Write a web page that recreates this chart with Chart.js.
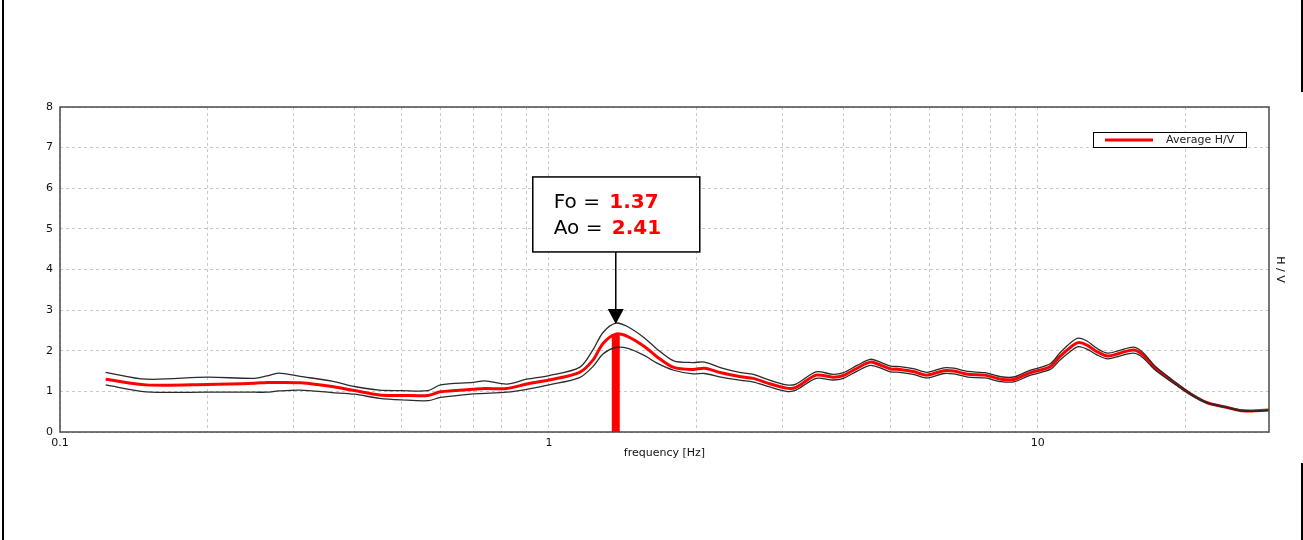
<!DOCTYPE html>
<html>
<head>
<meta charset="utf-8">
<script src="https://cdn.jsdelivr.net/npm/chart.js@4"></script>
<style>
html,body{margin:0;padding:0;background:#fff;overflow:hidden}
canvas{display:block}
</style>
</head>
<body>
<canvas id="hv" width="1303" height="540"></canvas>
<script>
// frequencies [Hz] and H/V curves
const freq    = [0.124,0.15,0.2,0.25,0.265,0.28,0.31,0.36,0.4,0.45,0.5,0.566,0.6,0.7,0.74,0.82,0.9,1.0,1.155,1.23,1.29,1.37,1.45,1.57,1.66,1.8,1.97,2.08,2.25,2.47,2.62,2.79,3.06,3.2,3.52,3.81,4.0,4.27,4.54,4.76,5.0,5.22,5.56,5.93,6.42,6.73,7.19,7.8,8.41,8.97,9.6,10.6,11.1,11.7,12.1,12.6,13.2,13.9,14.7,15.7,16.4,17.4,18.9,20.5,22.2,24.3,25.9,27.6,29.7];
const avgHV   = [1.30,1.16,1.17,1.20,1.22,1.22,1.21,1.12,1.02,0.91,0.90,0.90,0.99,1.05,1.07,1.07,1.18,1.28,1.47,1.77,2.18,2.41,2.35,2.10,1.86,1.59,1.54,1.57,1.46,1.36,1.32,1.21,1.08,1.10,1.40,1.35,1.39,1.57,1.72,1.65,1.55,1.54,1.49,1.40,1.51,1.50,1.42,1.40,1.30,1.30,1.45,1.61,1.86,2.10,2.20,2.14,1.98,1.87,1.94,2.02,1.90,1.57,1.24,0.94,0.72,0.61,0.53,0.52,0.54];
const upperHV = [1.47,1.30,1.35,1.32,1.38,1.45,1.37,1.25,1.12,1.03,1.02,1.02,1.16,1.22,1.26,1.18,1.30,1.39,1.59,2.02,2.45,2.68,2.59,2.31,2.05,1.75,1.71,1.72,1.58,1.46,1.42,1.30,1.16,1.18,1.48,1.42,1.46,1.64,1.79,1.72,1.62,1.61,1.56,1.47,1.58,1.57,1.49,1.46,1.36,1.36,1.51,1.68,1.95,2.21,2.31,2.24,2.06,1.94,2.01,2.09,1.96,1.61,1.27,0.96,0.73,0.62,0.54,0.52,0.54];
const lowerHV = [1.16,0.99,0.98,0.98,0.98,1.01,1.03,0.97,0.93,0.83,0.79,0.77,0.85,0.94,0.95,0.98,1.05,1.16,1.34,1.61,1.92,2.08,2.06,1.88,1.70,1.52,1.43,1.44,1.35,1.27,1.23,1.13,1.00,1.03,1.32,1.28,1.32,1.50,1.64,1.58,1.48,1.47,1.42,1.33,1.44,1.43,1.35,1.33,1.24,1.24,1.39,1.54,1.77,2.00,2.10,2.04,1.90,1.80,1.87,1.94,1.83,1.52,1.21,0.92,0.71,0.60,0.52,0.51,0.53];

const fo = 1.37;        // peak frequency
const ao = 2.41;        // peak amplitude
const arrowTip = 2.66;  // where the arrow points (top curve at fo)

const xGrid   = [0.1,0.2,0.3,0.4,0.5,0.6,0.7,0.8,0.9,1,2,3,4,5,6,7,8,9,10,20];
const xLabels = [0.1,1,10];

const pts = arr => freq.map((f,i) => ({x:f, y:arr[i]}));

const smallFont = {family:'DejaVu Sans', size:11};

const extras = {
    id:'extras',
    beforeDraw(c){
        const g = c.ctx;
        g.save();
        g.fillStyle = '#000';
        g.fillRect(2,0,2,540);
        g.fillRect(1301,0,2,92);
        g.fillRect(1301,463,2,77);
        g.restore();
    },
    afterDraw(c){
        const g = c.ctx, a = c.chartArea;
        const xs = c.scales.x, ys = c.scales.y;
        g.save();

        // plot frame
        g.strokeStyle = '#4a4a4a';
        g.lineWidth = 1.5;
        g.strokeRect(a.left, a.top, a.right-a.left, a.bottom-a.top);

        // legend box
        const lw = 153, lh = 15;
        const lx = a.right - 23 - lw, ly = a.top + 25;
        g.fillStyle = '#fff';
        g.fillRect(lx, ly, lw, lh);
        g.strokeStyle = '#000';
        g.lineWidth = 1;
        g.strokeRect(lx+0.5, ly+0.5, lw, lh);
        g.strokeStyle = '#ff0000';
        g.lineWidth = 3;
        g.beginPath();
        g.moveTo(lx+12, ly+lh/2+0.5);
        g.lineTo(lx+60, ly+lh/2+0.5);
        g.stroke();
        g.fillStyle = '#222';
        g.font = '11px "DejaVu Sans"';
        g.textBaseline = 'middle';
        g.fillText(c.data.datasets[2].label, lx+73, ly+lh/2+1);

        // arrow + Fo/Ao box
        const tx = xs.getPixelForValue(fo);
        const ty = ys.getPixelForValue(arrowTip);
        const bw = 167, bh = 75;
        const bx = tx - 83, by = ty - 72 - bh;
        g.strokeStyle = '#000';
        g.lineWidth = 1.5;
        g.beginPath();
        g.moveTo(tx, by+bh);
        g.lineTo(tx, ty-14);
        g.stroke();
        g.fillStyle = '#000';
        g.beginPath();
        g.moveTo(tx-8, ty-15);
        g.lineTo(tx+8, ty-15);
        g.lineTo(tx, ty);
        g.closePath();
        g.fill();

        g.fillStyle = '#fff';
        g.fillRect(bx, by, bw, bh);
        g.strokeRect(bx, by, bw, bh);

        g.textBaseline = 'alphabetic';
        const rows = [['Fo = ', fo.toFixed(2), 31], ['Ao = ', ao.toFixed(2), 57]];
        rows.forEach(r => {
            g.font = '20px "DejaVu Sans"';
            g.fillStyle = '#000';
            g.fillText(r[0], bx+21, by+r[2]);
            const w = g.measureText(r[0]).width;
            g.font = 'bold 20px "DejaVu Sans"';
            g.fillStyle = '#ff0000';
            g.fillText(r[1], bx+24+w, by+r[2]);
        });
        g.restore();
    }
};

const ctx = document.getElementById('hv').getContext('2d');

let chart = new Chart(ctx, {
    type:'line',
    data:{
        datasets:[
            {label:'upper', data:pts(upperHV), borderColor:'#2a2a2a', borderWidth:1.3, pointRadius:0, tension:0.3},
            {label:'lower', data:pts(lowerHV), borderColor:'#2a2a2a', borderWidth:1.3, pointRadius:0, tension:0.3},
            {label:'Average H/V', data:pts(avgHV), borderColor:'#ff0000', borderWidth:3, pointRadius:0, tension:0.3},
            {label:'Fo', data:[{x:fo,y:0},{x:fo,y:ao}], borderColor:'#ff0000', borderWidth:8, pointRadius:0, borderCapStyle:'butt'}
        ]
    },
    options:{
        responsive:false,
        animation:false,
        events:[],
        layout:{padding:{top:107}},
        plugins:{legend:{display:false}, tooltip:{enabled:false}},
        scales:{
            x:{
                type:'logarithmic', position:'bottom', min:0.1, max:29.7,
                afterBuildTicks: s => { s.ticks = xGrid.map(v => ({value:v})); },
                afterFit: s => { s.height = 108; },
                ticks:{autoSkip:false, maxRotation:0, padding:5, color:'#111', font:smallFont,
                       callback: v => xLabels.includes(v) ? String(v) : ''},
                grid:{color:'#c8c8c8', drawTicks:false},
                border:{display:false, dash:[3,3]},
                title:{display:true, text:'frequency [Hz]', color:'#111', font:smallFont, padding:{top:0, bottom:80}}
            },
            y:{
                position:'left', min:0, max:8,
                afterFit: s => { s.width = 60; },
                ticks:{stepSize:1, padding:7, color:'#111', font:smallFont},
                grid:{color:'#c8c8c8', drawTicks:false},
                border:{display:false, dash:[3,3]}
            },
            y2:{
                position:'right', min:0, max:8,
                afterFit: s => { s.width = 34; },
                ticks:{display:false},
                grid:{display:false},
                border:{display:false},
                title:{display:true, text:'H / V', color:'#111', font:smallFont, padding:{top:17, bottom:0}}
            }
        }
    },
    plugins:[extras]
});
</script>
</body>
</html>
